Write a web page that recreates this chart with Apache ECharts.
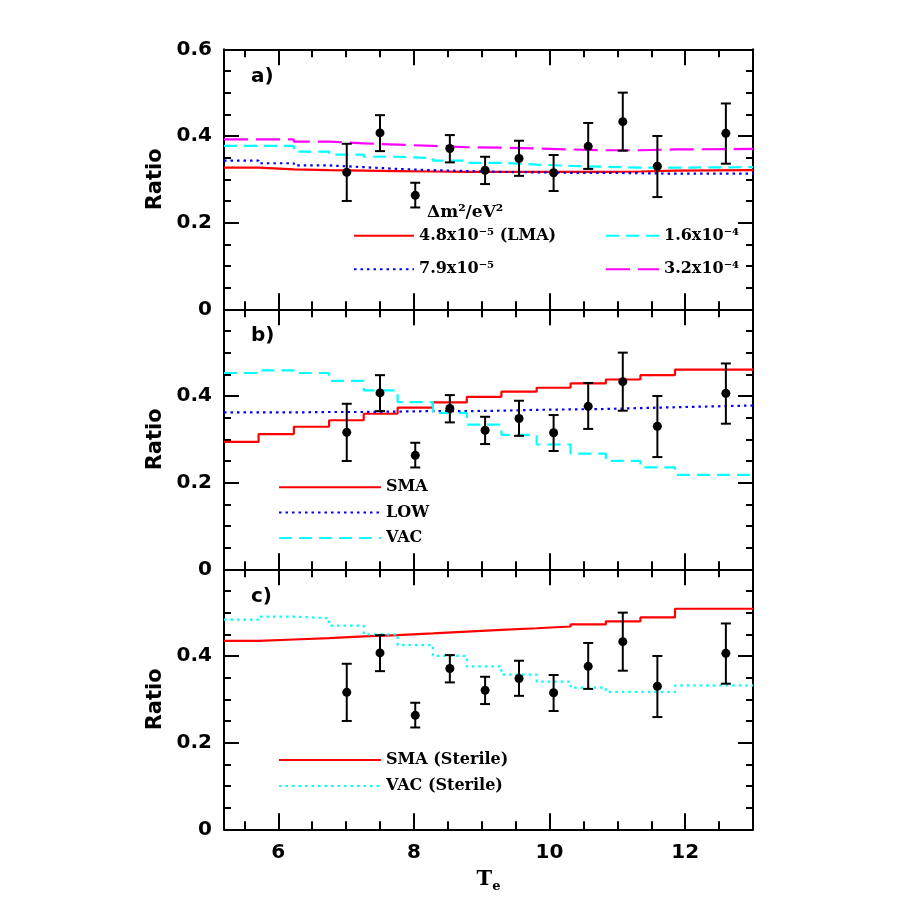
<!DOCTYPE html>
<html><head><meta charset="utf-8">
<script src="https://cdn.jsdelivr.net/npm/echarts@6/dist/echarts.min.js"></script>
<style>html,body{margin:0;padding:0;background:#fff}#c{width:913px;height:913px}</style>
</head><body><div id="c"></div>
<script>
// bin edges of the step curves (T_e)
const xEdges = [5.2, 5.71, 6.23, 6.75, 7.26, 7.76, 8.28, 8.78, 9.29, 9.81, 10.31, 10.83, 11.34, 11.85, 13.0];
// panel a)
const lma48 = [0.327,0.323,0.321,0.320,0.319,0.318,0.317,0.317,0.317,0.317,0.317,0.318,0.320,0.321];
const dm79  = [0.343,0.337,0.332,0.328,0.324,0.321,0.319,0.317,0.316,0.315,0.315,0.314,0.313,0.313];
const dm16  = [0.377,0.377,0.364,0.357,0.352,0.349,0.343,0.338,0.334,0.331,0.329,0.327,0.327,0.328];
const dm32  = [0.392,0.392,0.387,0.383,0.380,0.377,0.374,0.373,0.371,0.369,0.367,0.367,0.369,0.370];
// panel b)
const smaB = [0.294,0.312,0.329,0.344,0.359,0.373,0.385,0.398,0.410,0.419,0.429,0.438,0.448,0.461];
const lowB = [0.362,0.362,0.363,0.363,0.364,0.365,0.365,0.366,0.368,0.369,0.370,0.372,0.374,0.378];
const vacB = [0.453,0.459,0.453,0.435,0.413,0.386,0.361,0.334,0.310,0.288,0.267,0.250,0.235,0.218];
// panel c)
const smaS = [0.435,0.438,0.441,0.445,0.448,0.452,0.456,0.460,0.464,0.468,0.473,0.480,0.489,0.509];
const vacS = [0.484,0.491,0.487,0.470,0.450,0.425,0.400,0.376,0.357,0.341,0.327,0.317,0.317,0.332];
// measured data points
const dataX  = [7.01,7.50,8.02,8.53,9.05,9.55,10.06,10.57,11.08,11.59,12.60];
const dataY  = [0.316,0.407,0.263,0.371,0.321,0.348,0.315,0.376,0.433,0.330,0.406];
const errLo  = [0.250,0.365,0.235,0.339,0.289,0.308,0.273,0.324,0.366,0.259,0.336];
const errHi  = [0.382,0.448,0.292,0.402,0.352,0.389,0.356,0.430,0.500,0.400,0.475];
// ticks
const xMajor = [6, 8, 10, 12];
const xMinor = [5.5, 6.5, 7, 7.5, 8.5, 9, 9.5, 10.5, 11, 11.5, 12.5];

const RED = '#ff0000', BLUE = '#0000ff', CYAN = '#00ffff', MAG = '#ff00ff';
const SANS = 'DejaVu Sans', SERIF = 'DejaVu Serif';

function stepData(vals) {
  const d = vals.map((v, i) => [xEdges[i], v]);
  d.push([xEdges[xEdges.length - 1], vals[vals.length - 1]]);
  return d;
}

const tops = [49.3, 309.3, 569.3];
const grids = tops.map(t => ({ left: 224, width: 529, top: t, height: 260 }));

const xAxes = [], yAxes = [];
for (let g = 0; g < 3; g++) {
  const base = { type: 'value', gridIndex: g, min: 5.2, max: 13, splitLine: { show: false } };
  const line = { show: true, lineStyle: { color: '#000', width: 2 } };
  const tick = (vals, len) => ({ show: true, inside: true, length: len, customValues: vals, lineStyle: { color: '#000', width: 2 } });
  xAxes.push(Object.assign({}, base, {
    position: 'bottom', axisLine: line, axisTick: tick(xMajor, 16),
    axisLabel: g === 2 ? { show: true, customValues: xMajor, margin: 13, color: '#000', fontFamily: SANS, fontWeight: 'bold', fontSize: 20 } : { show: false },
    name: g === 2 ? '{t|T}{s|e}' : '', nameLocation: 'middle', nameGap: 37,
    nameTextStyle: { rich: { t: { fontFamily: SERIF, fontWeight: 'bold', fontSize: 21, color: '#000' }, s: { fontFamily: SERIF, fontWeight: 'bold', fontSize: 13, color: '#000', padding: [14, 0, 0, 0] } } }
  }));
  xAxes.push(Object.assign({}, base, { position: 'bottom', axisLine: { show: false }, axisTick: tick(xMinor, 8), axisLabel: { show: false } }));
  xAxes.push(Object.assign({}, base, { position: 'top', axisLine: line, axisTick: tick(xMajor, 16), axisLabel: { show: false } }));
  xAxes.push(Object.assign({}, base, { position: 'top', axisLine: { show: false }, axisTick: tick(xMinor, 8), axisLabel: { show: false } }));

  const ybase = { type: 'value', gridIndex: g, min: 0, max: 0.6, interval: 0.2, splitLine: { show: false },
    axisLine: line, axisTick: { show: true, inside: true, length: 15, lineStyle: { color: '#000', width: 2 } },
    minorTick: { show: true, splitNumber: 4, length: 7, lineStyle: { color: '#000', width: 2 } } };
  yAxes.push(Object.assign({}, ybase, {
    position: 'left',
    axisLabel: { show: true, margin: 12, color: '#000', fontFamily: SANS, fontWeight: 'bold', fontSize: 20,
      customValues: g === 0 ? [0, 0.2, 0.4, 0.6] : [0, 0.2, 0.4] },
    name: 'Ratio', nameLocation: 'middle', nameGap: 58, nameRotate: 90,
    nameTextStyle: { fontFamily: SANS, fontWeight: 'bold', fontSize: 21, color: '#000' }
  }));
  yAxes.push(Object.assign({}, ybase, { position: 'right', axisLabel: { show: false } }));
}

function stepSeries(name, vals, g, color, type, width) {
  return { name, type: 'line', step: 'end', xAxisIndex: 4 * g, yAxisIndex: 2 * g, data: stepData(vals),
    symbol: 'none', silent: true, animation: false, z: 2,
    itemStyle: { color }, 
    lineStyle: { color, width: width || 2.2, type } };
}

const series = [
  stepSeries('4.8x10⁻⁵ (LMA)', lma48, 0, RED, 'solid'),
  stepSeries('7.9x10⁻⁵', dm79, 0, BLUE, [2.5, 4]),
  stepSeries('1.6x10⁻⁴', dm16, 0, CYAN, [13, 7]),
  stepSeries('3.2x10⁻⁴', dm32, 0, MAG, [24, 8]),
  stepSeries('SMA', smaB, 1, RED, 'solid'),
  stepSeries('LOW', lowB, 1, BLUE, [2.5, 4]),
  stepSeries('VAC', vacB, 1, CYAN, [13, 7]),
  stepSeries('SMA (Sterile)', smaS, 2, RED, 'solid'),
  stepSeries('VAC (Sterile)', vacS, 2, CYAN, [2.5, 4])
];

for (let g = 0; g < 3; g++) {
  series.push({
    type: 'custom', xAxisIndex: 4 * g, yAxisIndex: 2 * g, silent: true, animation: false, z: 5,
    data: dataX.map((x, i) => [x, errLo[i], errHi[i]]),
    encode: { x: 0, y: [1, 2] },
    renderItem: function (params, api) {
      const x = api.value(0);
      const lo = api.coord([x, api.value(1)]);
      const hi = api.coord([x, api.value(2)]);
      const w = 5;
      const st = { stroke: '#000', lineWidth: 2 };
      return { type: 'group', children: [
        { type: 'line', shape: { x1: lo[0], y1: lo[1], x2: hi[0], y2: hi[1] }, style: st },
        { type: 'line', shape: { x1: lo[0] - w, y1: lo[1], x2: lo[0] + w, y2: lo[1] }, style: st },
        { type: 'line', shape: { x1: hi[0] - w, y1: hi[1], x2: hi[0] + w, y2: hi[1] }, style: st }
      ] };
    }
  });
  series.push({
    type: 'scatter', xAxisIndex: 4 * g, yAxisIndex: 2 * g, silent: true, animation: false, z: 6,
    data: dataX.map((x, i) => [x, dataY[i]]), symbol: 'circle', symbolSize: 9,
    itemStyle: { color: '#000', opacity: 1 }
  });
}

const legTxt = { fontFamily: SERIF, fontWeight: 'bold', fontSize: 16, color: '#000', lineHeight: 16 };
const legBase = { orient: 'vertical', selectedMode: false, itemHeight: 16, padding: 0, textStyle: legTxt,
  itemStyle: { opacity: 0 } };
const legends = [
  Object.assign({}, legBase, { left: 353, top: 227.7, itemWidth: 60, itemGap: 17.6, data: ['4.8x10⁻⁵ (LMA)', '7.9x10⁻⁵'] }),
  Object.assign({}, legBase, { left: 605, top: 227.7, itemWidth: 53, itemGap: 17.6, data: ['1.6x10⁻⁴', '3.2x10⁻⁴'] }),
  Object.assign({}, legBase, { left: 278, top: 479.3, itemWidth: 102, itemGap: 9.3, data: ['SMA', 'LOW', 'VAC'] }),
  Object.assign({}, legBase, { left: 278, top: 752, itemWidth: 102, itemGap: 10, data: ['SMA (Sterile)', 'VAC (Sterile)'] })
];

const lblStyle = { fontFamily: SANS, fontWeight: 'bold', fontSize: 20, fill: '#000' };
const option = {
  backgroundColor: '#fff',
  animation: false,
  grid: grids,
  xAxis: xAxes,
  yAxis: yAxes,
  legend: legends,
  series,
  graphic: [
    { type: 'text', left: 251, top: 67, style: Object.assign({ text: 'a)' }, lblStyle) },
    { type: 'text', left: 251, top: 326, style: Object.assign({ text: 'b)' }, lblStyle) },
    { type: 'text', left: 251, top: 587, style: Object.assign({ text: 'c)' }, lblStyle) },
    { type: 'text', left: 427, top: 204, style: { text: 'Δm²/eV²', fontFamily: SERIF, fontWeight: 'bold', fontSize: 17, fill: '#000' } }
  ]
};
const chart = echarts.init(document.getElementById('c'), null, { renderer: 'canvas' });
chart.setOption(option);
</script></body></html>
